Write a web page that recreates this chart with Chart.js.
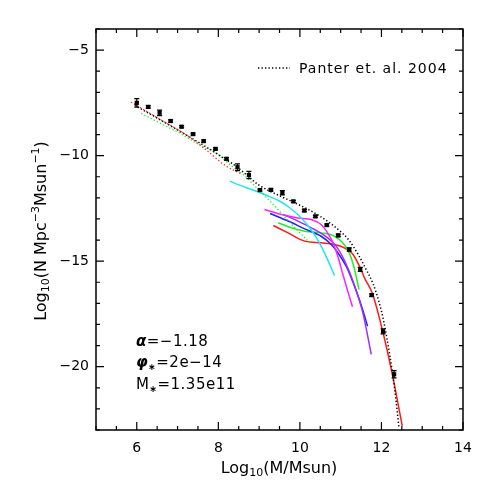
<!DOCTYPE html>
<html><head><meta charset="utf-8">
<script src="https://cdn.jsdelivr.net/npm/chart.js@4/dist/chart.umd.min.js"></script>
<style>html,body{margin:0;padding:0;background:#fff}</style>
</head><body>
<canvas id="c" width="491" height="491" style="width:491px;height:491px;display:block"></canvas>
<script>
// ---- tick labels ----
const xTicks = [6, 8, 10, 12, 14];
const yTicks = [-5, -10, -15, -20];

// ---- measured mass function (points with error bars) ----
const obsX = [6.00,6.28,6.56,6.83,7.10,7.38,7.64,7.93,8.20,8.47,8.75,9.02,9.29,9.57,9.84,10.11,10.38,10.66,10.94,11.21,11.48,11.76,12.04,12.31];
const obsY = [-7.50,-7.69,-7.97,-8.36,-8.63,-8.98,-9.31,-9.68,-10.15,-10.55,-10.92,-11.63,-11.62,-11.76,-12.17,-12.60,-12.88,-13.29,-13.78,-14.45,-15.39,-16.61,-18.33,-20.36];
const obsErr = [0.20,0.06,0.13,0.05,0.05,0.05,0.05,0.05,0.06,0.16,0.17,0.05,0.06,0.10,0.05,0.05,0.05,0.05,0.06,0.08,0.10,0.06,0.12,0.17];

// ---- Panter et al. 2004 (black dotted) ----
const panterX = [5.95,6.5,7.0,7.5,8.0,8.5,9.0,9.5,10.0,10.5,11.0,11.2,11.45,11.6,11.8,11.95,12.05,12.2,12.32,12.43];
const panterY = [-7.62,-8.22,-8.78,-9.35,-9.95,-10.6,-11.4,-11.9,-12.35,-12.88,-13.6,-14.0,-14.75,-15.3,-16.1,-17.0,-17.8,-19.4,-21.0,-22.9];

// ---- dotted low-mass extensions ----
const redDotX = [5.86,6.23,6.71,7.20,7.69,8.17,8.55];
const redDotY = [-7.46,-7.89,-8.44,-9.00,-9.71,-10.47,-10.85];
const greenDotX = [6.11,6.55,7.04,7.52,7.93,8.30,8.70,8.86,9.27,9.79,10.28];
const greenDotY = [-8.00,-8.44,-8.92,-9.47,-9.87,-10.45,-11.05,-11.37,-12.16,-13.24,-14.21];

// ---- solid model curves ----
const cyanX = [8.28,8.54,8.86,9.19,9.51,9.75,9.99,10.24,10.48,10.64,10.85];
const cyanY = [-11.21,-11.41,-11.64,-11.89,-12.16,-12.47,-12.87,-13.42,-14.13,-14.76,-15.68];
const magentaX = [9.13,9.55,9.95,10.28,10.52,10.68,10.81,10.95,11.05,11.17,11.29];
const magentaY = [-12.55,-12.79,-12.95,-13.03,-13.26,-13.66,-14.13,-14.9,-15.6,-16.4,-17.16];
const purpleX = [9.59,9.95,10.36,10.68,10.89,11.10,11.35,11.55,11.75];
const purpleY = [-12.79,-13.10,-13.50,-13.90,-14.29,-15.0,-16.2,-17.5,-19.42];
const blueX = [9.27,9.71,10.12,10.52,10.77,10.93,11.15,11.38,11.54,11.66];
const blueY = [-12.74,-13.10,-13.47,-13.82,-14.21,-14.6,-15.3,-16.4,-17.3,-18.08];
const greenX = [9.47,9.79,10.12,10.52,10.85,11.05,11.21,11.33,11.45];
const greenY = [-13.18,-13.42,-13.58,-13.66,-13.82,-14.13,-14.6,-15.3,-16.35];
const redX = [9.35,9.71,10.12,10.52,10.85,11.09,11.29,11.45,11.60,11.78,12.02,12.26,12.51];
const redY = [-13.31,-13.66,-14.05,-14.13,-14.21,-14.37,-14.65,-15.2,-15.85,-16.55,-18.24,-20.29,-22.8];

const legendText = 'Panter et. al. 2004';

const pts = (xs, ys) => xs.map((x, i) => ({x, y: ys[i]}));
const FONT = '"DejaVu Sans", "Liberation Sans", sans-serif';

function lineDs(xs, ys, color, dash, width) {
  return {data: pts(xs, ys), showLine: true, borderColor: color, borderWidth: width || 1.5,
    borderDash: dash || [], pointRadius: 0, cubicInterpolationMode: 'monotone', fill: false, order: 2};
}

function rich(ctx, parts, x, y, align) {
  let total = 0;
  const ms = parts.map(p => {
    ctx.font = (p.style || '') + ' ' + p.size + 'px ' + FONT;
    const w = ctx.measureText(p.t).width;
    total += w; return w;
  });
  let cx = align === 'center' ? x - total / 2 : x;
  ctx.textAlign = 'left'; ctx.textBaseline = 'alphabetic';
  parts.forEach((p, i) => {
    ctx.font = (p.style || '') + ' ' + p.size + 'px ' + FONT;
    ctx.fillText(p.t, cx, y + (p.dy || 0));
    cx += ms[i];
  });
}

const decor = {
  id: 'decor',
  afterDatasetsDraw(chart) {
    const ctx = chart.ctx, xs = chart.scales.x, ys = chart.scales.y, a = chart.chartArea;
    ctx.save();
    // error bars
    ctx.strokeStyle = '#000'; ctx.lineWidth = 1.2;
    obsX.forEach((x, i) => {
      const px = xs.getPixelForValue(x);
      const y1 = ys.getPixelForValue(obsY[i] + obsErr[i]);
      const y2 = ys.getPixelForValue(obsY[i] - obsErr[i]);
      ctx.beginPath();
      ctx.moveTo(px, y1); ctx.lineTo(px, y2);
      ctx.moveTo(px - 2.5, y1); ctx.lineTo(px + 2.5, y1);
      ctx.moveTo(px - 2.5, y2); ctx.lineTo(px + 2.5, y2);
      ctx.stroke();
    });
    // frame
    ctx.lineWidth = 1.5;
    ctx.strokeRect(a.left, a.top, a.right - a.left, a.bottom - a.top);
    ctx.lineWidth = 1.2;
    ctx.beginPath();
    for (let v = xs.min; v <= xs.max + 1e-9; v += 0.5) {
      const px = xs.getPixelForValue(v);
      const L = Math.abs(v - Math.round(v / 2) * 2) < 1e-9 ? 8 : 4;
      ctx.moveTo(px, a.bottom); ctx.lineTo(px, a.bottom - L);
      ctx.moveTo(px, a.top); ctx.lineTo(px, a.top + L);
    }
    for (let v = ys.min; v <= ys.max + 1e-9; v += 1) {
      const py = ys.getPixelForValue(v);
      const L = Math.abs(v % 5) < 1e-9 ? 8 : 4;
      ctx.moveTo(a.left, py); ctx.lineTo(a.left + L, py);
      ctx.moveTo(a.right, py); ctx.lineTo(a.right - L, py);
    }
    ctx.stroke();
    // legend
    ctx.strokeStyle = '#000'; ctx.lineWidth = 1.5; ctx.setLineDash([1.3, 2.2]);
    ctx.beginPath(); ctx.moveTo(258, 68); ctx.lineTo(290, 68); ctx.stroke();
    ctx.setLineDash([]);
    ctx.fillStyle = '#000';
    ctx.letterSpacing = '1px';
    rich(ctx, [{t: legendText, size: 14}], 299, 73, 'left');
    // annotations
    ctx.letterSpacing = '0.5px';
    rich(ctx, [{t: 'α', size: 15, style: 'italic bold'}, {t: '=−1.18', size: 15}], 136, 346, 'left');
    rich(ctx, [{t: 'φ', size: 15, style: 'italic bold'}, {t: '∗', size: 9, style: 'bold', dy: 3}, {t: '=2e−14', size: 15}], 136, 367, 'left');
    rich(ctx, [{t: 'M', size: 15}, {t: '∗', size: 9, style: 'bold', dy: 3}, {t: '=1.35e11', size: 15}], 136, 389, 'left');
    ctx.letterSpacing = '0px';
    // axis titles
    rich(ctx, [{t: 'Log', size: 16}, {t: '10', size: 11, dy: 3}, {t: '(M/Msun)', size: 16}], 279, 473, 'center');
    ctx.translate(46, 231); ctx.rotate(-Math.PI / 2);
    rich(ctx, [{t: 'Log', size: 16}, {t: '10', size: 11, dy: 3}, {t: '(N Mpc', size: 16},
      {t: '−3', size: 11, dy: -7}, {t: 'Msun', size: 16}, {t: '−1', size: 11, dy: -7}, {t: ')', size: 16}], 0, 0, 'center');
    ctx.restore();
  }
};

new Chart(document.getElementById('c'), {
  type: 'scatter',
  data: {
    datasets: [
      lineDs(panterX, panterY, '#000', [1.3, 2.2], 1.5),
      lineDs(redDotX, redDotY, '#ff2020', [1.3, 2.2], 1.3),
      lineDs(greenDotX, greenDotY, '#22ee22', [1.3, 2.2], 1.3),
      lineDs(cyanX, cyanY, '#1ee6f2'),
      lineDs(magentaX, magentaY, '#ff22ff'),
      lineDs(purpleX, purpleY, '#9b30ff'),
      lineDs(blueX, blueY, '#2020ff'),
      lineDs(greenX, greenY, '#22ee22'),
      lineDs(redX, redY, '#ff1a1a'),
      {data: pts(obsX, obsY), pointStyle: 'rect', pointRadius: 3, backgroundColor: '#000',
        borderColor: '#000', borderWidth: 0, showLine: false, order: 1}
    ]
  },
  options: {
    responsive: false, animation: false, devicePixelRatio: 1,
    layout: {padding: {left: 0, right: 28, top: 29, bottom: 0}},
    plugins: {legend: {display: false}, tooltip: {enabled: false}},
    scales: {
      x: {
        type: 'linear', min: 5, max: 14,
        afterBuildTicks: s => { s.ticks = xTicks.map(v => ({value: v})); },
        afterFit: s => { s.height = 61; },
        grid: {display: false, drawTicks: false}, border: {display: false},
        ticks: {font: {family: FONT, size: 14}, color: '#000', padding: 10, maxRotation: 0,
          callback: v => String(v).replace('-', '−')}
      },
      y: {
        type: 'linear', min: -23, max: -4,
        afterBuildTicks: s => { s.ticks = yTicks.map(v => ({value: v})); },
        afterFit: s => { s.width = 96; },
        grid: {display: false, drawTicks: false}, border: {display: false},
        ticks: {font: {family: FONT, size: 14}, color: '#000', padding: 7,
          callback: v => String(v).replace('-', '−')}
      }
    }
  },
  plugins: [decor]
});
</script>
</body></html>
